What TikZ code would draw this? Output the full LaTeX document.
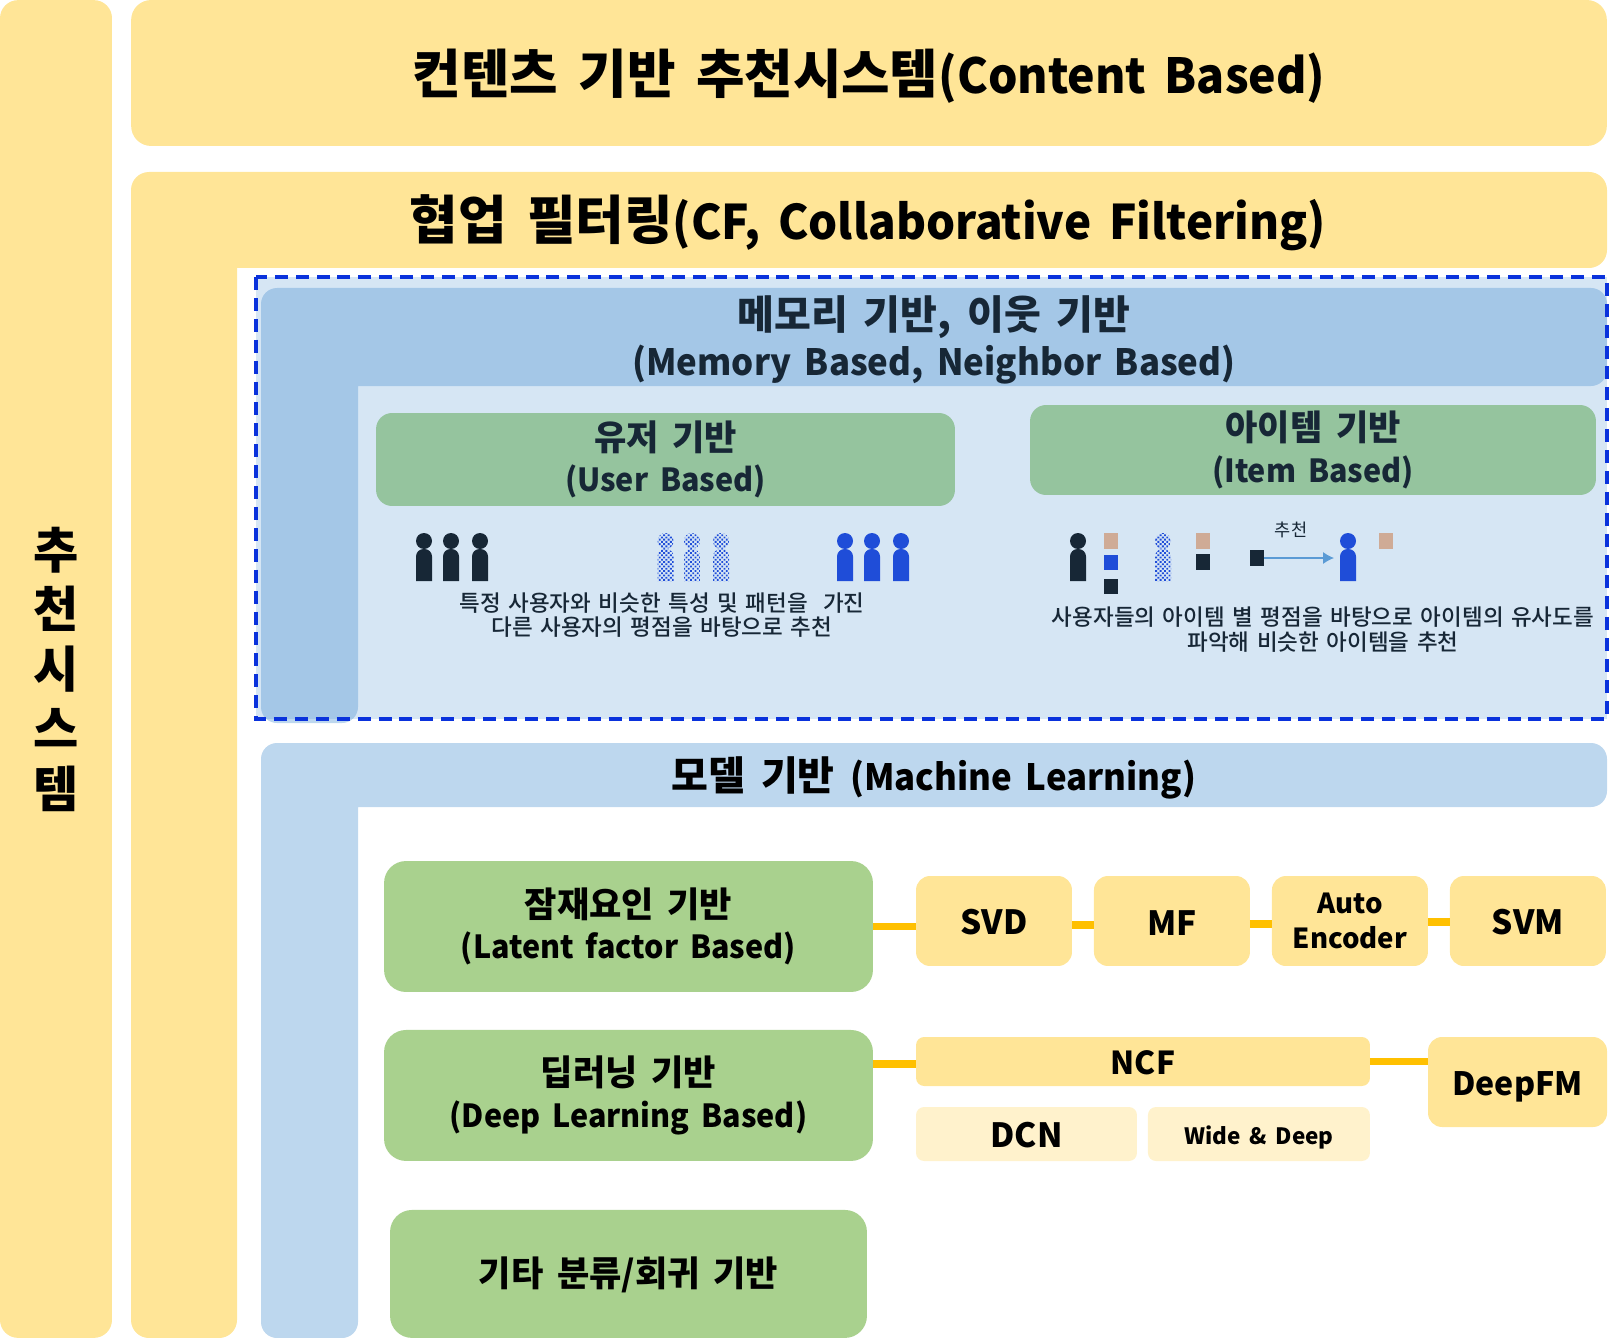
\documentclass[tikz,border=0pt]{standalone}
\usepackage{fontspec}
\setmainfont{Noto Sans CJK KR}[WordSpace=1.7]
\newfontfamily\la{Noto Sans CJK KR}[Scale=0.905,FakeStretch=0.96,WordSpace=1.7]
\newfontfamily\med{Noto Sans CJK KR Medium}[WordSpace=1.5]
\usetikzlibrary{arrows.meta,positioning,patterns.meta}
\definecolor{sand}{HTML}{FFE597}
\definecolor{cream}{HTML}{FFF2CC}
\definecolor{gold}{HTML}{FFC000}
\definecolor{leaf}{HTML}{A9D18E}
\definecolor{moss}{HTML}{95C49E}
\definecolor{sky}{HTML}{BDD7EE}
\definecolor{steel}{HTML}{5B9BD5}
\definecolor{ink}{HTML}{172736}
\definecolor{cobalt}{HTML}{1F4DD8}
\definecolor{dashblue}{HTML}{0A32DC}
\definecolor{tan}{HTML}{CFAB96}
\newcommand{\sz}[2]{\fontsize{#1}{#2}\selectfont\bfseries}
\tikzset{
  tag/.style={inner sep=0pt,outer sep=0pt,align=center},
  nudge/.style={execute at begin node={\rule{0pt}{#1em}}},
  box/.style={tag,rounded corners=0.28cm,fill=sand,text=black,font=\sz{19}{24},nudge=0.85},
  branch/.style={tag,rounded corners=0.44cm,fill=leaf,text=black,font=\sz{20}{23.6},minimum width=9.78cm,minimum height=2.62cm},
  group/.style={tag,rounded corners=0.32cm,fill=moss,text=ink,font=\sz{20}{23.5},nudge=1.3},
  note/.style={tag,text=ink,font=\fontsize{12.8}{14}\selectfont\med},
  cell/.style={tag,minimum width=0.28cm,minimum height=0.31cm},
  link/.style={gold,line width=4.5pt},
  person/.pic={
    \fill[pic actions] (8,8) circle[radius=0.16cm];
    \fill[pic actions] (0,48) [rounded corners=0.15cm] -- (0,16) -- (16,16) [sharp corners] -- (16,48) -- cycle;
  },
  dither/.style={pattern={Dots[distance=1.8pt,radius=0.74pt,angle=45]},pattern color=cobalt}
}
\begin{document}
\begin{tikzpicture}[x=0.02cm,y=-0.02cm]
\useasboundingbox (0,0) rectangle (1616,1338);
\node[box,rounded corners=0.36cm,minimum width=2.24cm,minimum height=26.76cm,font=\sz{28}{34}] (recsys) at (56,669) {추\\천\\시\\스\\템};
\node[box,rounded corners=0.4cm,minimum width=29.52cm,minimum height=2.92cm,font=\sz{30}{36},nudge=0.98] (content) at (869,73) {컨텐츠 기반 추천시스템{\fontsize{30.4}{36}\selectfont\la(Content Based)}};
\fill[sand] (237,268) [rounded corners=0.36cm] -- (1607,268) -- (1607,172) -- (131,172) -- (131,1338) -- (237,1338) [sharp corners] -- cycle;
\node[tag,font=\sz{30}{36}] (cf) at (868,223) {협업 필터링{\la(CF, Collaborative Filtering)}};
\fill[sky] (358,386) [rounded corners=0.32cm] -- (1607,386) -- (1607,288) -- (261,288) -- (261,723) -- (358,723) [sharp corners] -- cycle;
\filldraw[fill=steel,fill opacity=0.25,draw=dashblue,line width=1.8pt,dash pattern=on 7.4pt off 4.5pt] (256,277) rectangle (1607,719);
\node[tag,text=ink,font=\sz{22.8}{26.6}] (memory) at (934,340) {메모리 기반, 이웃 기반\\{\la(Memory Based, Neighbor Based)}};
\fill[sky] (358,807) [rounded corners=0.32cm] -- (1607,807) -- (1607,743) -- (261,743) -- (261,1338) -- (358,1338) [sharp corners] -- cycle;
\node[tag,font=\sz{22.8}{27}] (model) at (934,778) {모델 기반 {\la(Machine Learning)}};
\node[group,minimum width=11.58cm,minimum height=1.86cm] (user) at (665.5,459.5) {유저 기반\\{\la(User Based)}};
\node[group,minimum width=11.32cm,minimum height=1.8cm] (item) at (1313,450) {아이템 기반\\{\la(Item Based)}};
\foreach \px in {416,443,472} \pic[fill=ink] at (\px,533) {person};
\foreach \px in {657.5,684,713} \pic[dither] at (\px,533) {person};
\foreach \px in {837,864,893} \pic[fill=cobalt] at (\px,533) {person};
\node[note] (usernote) at (662,615) {특정 사용자와 비슷한 특성 및 패턴을~~가진\\다른 사용자의 평점을 바탕으로 추천};
\pic[fill=ink] at (1070,533) {person};
\pic[dither] at (1155,533) {person};
\pic[fill=cobalt] at (1340,533) {person};
\node[cell,fill=tan] (a1) at (1111,541) {};
\node[cell,fill=cobalt] (a2) at (1111,562.5) {};
\node[cell,fill=ink] (a3) at (1111,586.5) {};
\node[cell,fill=tan] (b1) at (1203,541) {};
\node[cell,fill=ink] (b2) at (1203,562) {};
\node[cell,fill=ink] (c1) at (1257,558) {};
\node[cell,fill=tan] (d1) at (1385.5,541) {};
\coordinate (target) at (1334,558);
\draw[steel,line width=0.6pt,-{Latex[length=2.2mm,width=2.4mm]}] (c1) -- (target);
\node[tag,text=ink,font=\fontsize{10}{12}\selectfont] (reco) at (1291,530) {추천};
\node[note] (itemnote) at (1323,629.5) {사용자들의 아이템 별 평점을 바탕으로 아이템의 유사도를\\파악해 비슷한 아이템을 추천};
\node[branch,nudge=1.3] (latent) at (628.5,926.5) {잠재요인 기반\\{\la(Latent factor Based)}};
\node[branch,nudge=1.3,below=0.76cm of latent] (deep) {딥러닝 기반\\{\la(Deep Learning Based)}};
\node[branch,nudge=0.87,minimum width=9.54cm,minimum height=2.56cm,below=0.98cm of deep] (other) {기타 분류/회귀 기반};
\node[box,minimum width=3.12cm,minimum height=1.8cm] (svd) at (994,921) {SVD};
\node[box,minimum width=3.12cm,minimum height=1.8cm,right=0.44cm of svd] (mf) {MF};
\node[box,minimum width=3.12cm,minimum height=1.8cm,right=0.44cm of mf,font=\sz{15.7}{20}] (auto) {Auto\\Encoder};
\node[box,minimum width=3.12cm,minimum height=1.8cm,right=0.44cm of auto] (svm) {SVM};
\node[box,rounded corners=0.16cm,minimum width=9.08cm,minimum height=0.98cm,font=\sz{18}{24}] (ncf) at (1143,1061.5) {NCF};
\node[box,minimum width=3.58cm,minimum height=1.8cm,font=\sz{18.3}{24},nudge=1.05] (deepfm) at (1517.5,1082) {DeepFM};
\node[box,rounded corners=0.16cm,fill=cream,minimum width=4.42cm,minimum height=1.08cm] (dcn) at (1026.5,1134) {DCN};
\node[box,rounded corners=0.16cm,fill=cream,minimum width=4.44cm,minimum height=1.08cm,right=0.22cm of dcn,font=\sz{12.8}{17},nudge=1.1] (wide) {Wide \& Deep};
\draw[link] (latent.east) -- (latent.east -| svd.west);
\draw[link] ([yshift=-0.08cm]svd.east) -- ([yshift=-0.08cm]mf.west);
\draw[link] ([yshift=-0.06cm]mf.east) -- ([yshift=-0.06cm]auto.west);
\draw[link] ([yshift=-0.02cm]auto.east) -- ([yshift=-0.02cm]svm.west);
\draw[link] ([yshift=-0.05cm]ncf.west -| deep.east) -- ([yshift=-0.05cm]ncf.west);
\draw[link] (ncf.east) -- (ncf.east -| deepfm.west);
\end{tikzpicture}
\end{document}
